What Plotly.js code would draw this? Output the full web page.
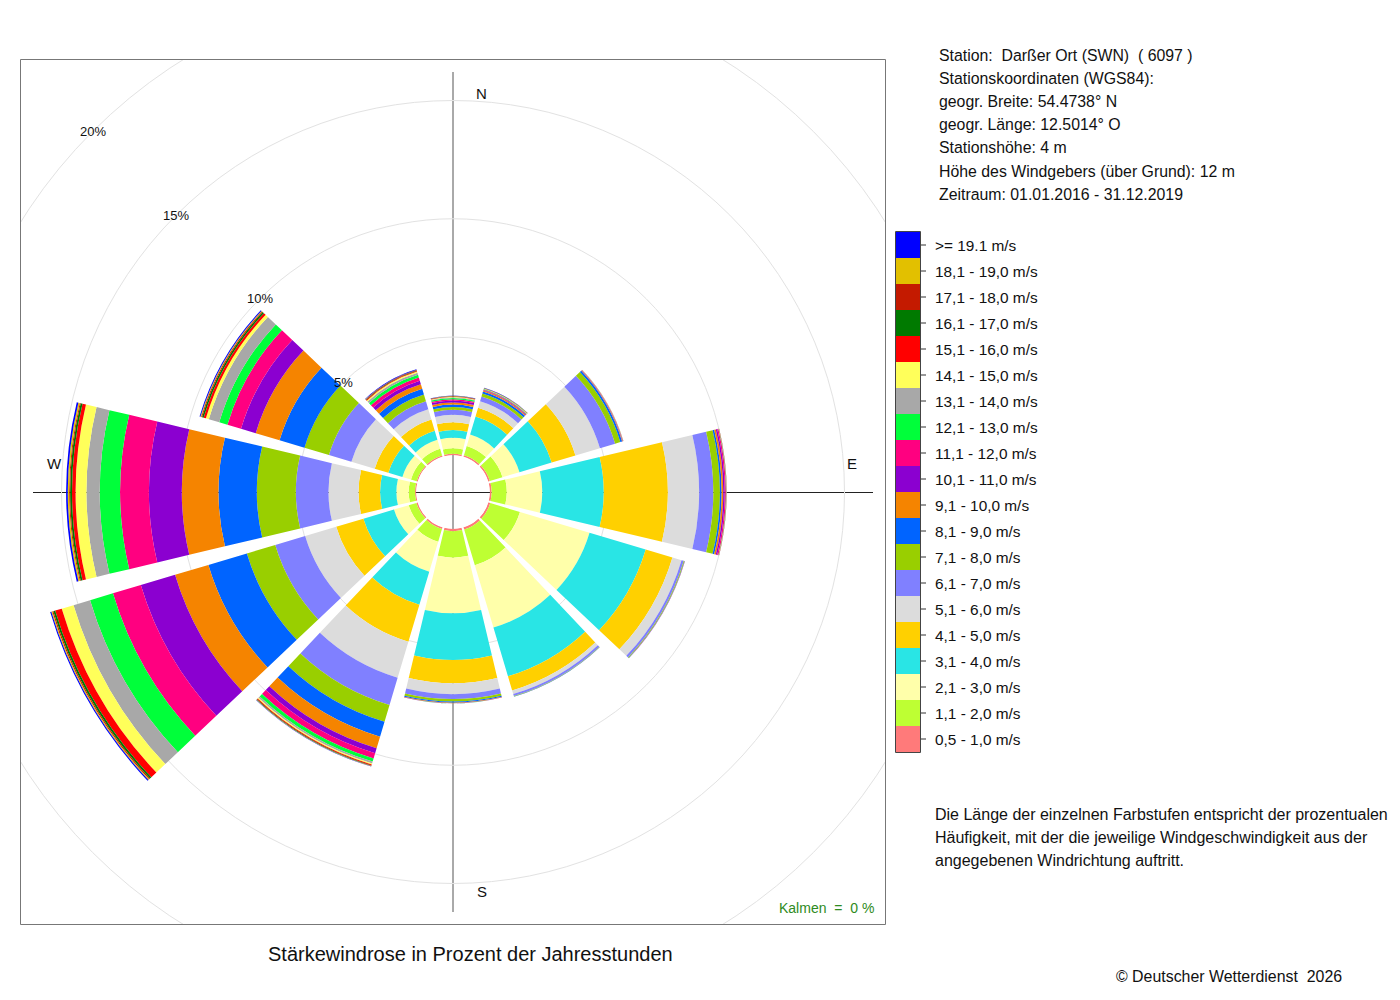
<!DOCTYPE html>
<html>
<head>
<meta charset="utf-8">
<script src="https://cdn.plot.ly/plotly-3.0.1.min.js"></script>
<style>
html,body{margin:0;padding:0;background:#ffffff;}
#chart{width:1400px;height:1000px;}
</style>
</head>
<body>
<div id="chart"></div>
<script>
// ---- data (percent of annual hours), directions in degrees ----
const directions = [0, 30, 60, 90, 120, 150, 180, 210, 240, 270, 300, 330];

const speedLabels = [
  '0,5 - 1,0 m/s', '1,1 - 2,0 m/s', '2,1 - 3,0 m/s', '3,1 - 4,0 m/s', '4,1 - 5,0 m/s',
  '5,1 - 6,0 m/s', '6,1 - 7,0 m/s', '7,1 - 8,0 m/s', '8,1 - 9,0 m/s', '9,1 - 10,0 m/s',
  '10,1 - 11,0 m/s', '11,1 - 12,0 m/s', '12,1 - 13,0 m/s', '13,1 - 14,0 m/s', '14,1 - 15,0 m/s',
  '15,1 - 16,0 m/s', '16,1 - 17,0 m/s', '17,1 - 18,0 m/s', '18,1 - 19,0 m/s', '>= 19.1 m/s'
];

const speedColors = [
  '#FF7A7A', '#BEFF33', '#FFFFAA', '#29E5E5', '#FFD000',
  '#DCDCDC', '#8080FF', '#99CF00', '#0064FF', '#F58400',
  '#8B00D0', '#FF0080', '#00FF3A', '#A8A8A8', '#FFFF5A',
  '#FF0000', '#007A00', '#C41A00', '#E2C000', '#0000FF'
];

//                 N     30    60    90    120   150   180   210   240   270   300   330
const v05_10  = [0.06, 0.07, 0.07, 0.08, 0.09, 0.10, 0.10, 0.08, 0.06, 0.05, 0.05, 0.06];
const v11_20  = [0.23, 0.41, 0.56, 0.64, 1.31, 1.58, 1.12, 0.56, 0.34, 0.27, 0.25, 0.29];
const v21_30  = [0.45, 0.50, 0.75, 1.50, 3.07, 2.75, 2.35, 1.32, 0.65, 0.52, 0.38, 0.40];
const v31_40  = [0.33, 0.80, 1.42, 2.60, 2.48, 2.15, 1.98, 1.46, 1.35, 0.69, 0.62, 0.40];
const v41_50  = [0.32, 0.38, 1.05, 2.71, 1.18, 0.62, 0.98, 1.63, 1.20, 0.91, 0.60, 0.50];
const v51_60  = [0.32, 0.29, 1.08, 1.32, 0.40, 0.16, 0.46, 1.59, 1.37, 1.27, 1.03, 0.45];
const v61_70  = [0.21, 0.21, 0.67, 0.60, 0.10, 0.09, 0.21, 1.20, 1.32, 1.38, 0.99, 0.35];
const v71_80  = [0.12, 0.13, 0.23, 0.28, 0.03, 0.02, 0.10, 0.74, 1.25, 1.65, 1.08, 0.30];
const v81_90  = [0.10, 0.09, 0.08, 0.07, 0.01, 0.005, 0.05, 0.66, 1.70, 1.62, 1.10, 0.25];
const v91_100 = [0.09, 0.04, 0.02, 0.07, 0.005, 0.003, 0.02, 0.51, 1.47, 1.55, 1.05, 0.20];
const v101_110 = [0.08, 0.03, 0.01, 0.06, 0.003, 0.002, 0.005, 0.22, 1.51, 1.39, 0.65, 0.16];
const v111_120 = [0.06, 0.02, 0.01, 0.05, 0.002, 0.001, 0.003, 0.23, 1.23, 1.22, 0.60, 0.14];
const v121_130 = [0.05, 0.02, 0.005, 0.01, 0.001, 0.001, 0.002, 0.14, 1.01, 0.86, 0.36, 0.12];
const v131_140 = [0.03, 0.01, 0.005, 0.01, 0.001, 0.0, 0.001, 0.08, 0.73, 0.56, 0.46, 0.09];
const v141_150 = [0.02, 0.01, 0.002, 0.005, 0.0, 0.0, 0.0, 0.05, 0.52, 0.46, 0.13, 0.05];
const v151_160 = [0.02, 0.01, 0.003, 0.005, 0.0, 0.0, 0.0, 0.04, 0.29, 0.15, 0.10, 0.04];
const v161_170 = [0.01, 0.01, 0.002, 0.002, 0.0, 0.0, 0.0, 0.02, 0.08, 0.08, 0.07, 0.02];
const v171_180 = [0.005, 0.005, 0.001, 0.001, 0.0, 0.0, 0.0, 0.01, 0.05, 0.04, 0.04, 0.015];
const v181_190 = [0.005, 0.005, 0.001, 0.001, 0.0, 0.0, 0.0, 0.01, 0.04, 0.06, 0.03, 0.01];
const v191_up  = [0.01, 0.01, 0.001, 0.001, 0.0, 0.0, 0.0, 0.01, 0.05, 0.07, 0.04, 0.015];

const seriesValues = [v05_10, v11_20, v21_30, v31_40, v41_50, v51_60, v61_70, v71_80, v81_90, v91_100,
  v101_110, v111_120, v121_130, v131_140, v141_150, v151_160, v161_170, v171_180, v181_190, v191_up];

const ringTicks = [5, 10, 15, 20];
const ringLabels = ['5%', '10%', '15%', '20%'];
const compassLabels = ['N', 'E', 'S', 'W'];

const headerLines = [
  'Station:\u00A0 Darßer Ort (SWN)\u00A0 ( 6097 )',
  'Stationskoordinaten (WGS84):',
  'geogr. Breite: 54.4738° N',
  'geogr. Länge: 12.5014° O',
  'Stationshöhe: 4 m',
  'Höhe des Windgebers (über Grund): 12 m',
  'Zeitraum: 01.01.2016 - 31.12.2019'
];
const noteLines = [
  'Die Länge der einzelnen Farbstufen entspricht der prozentualen',
  'Häufigkeit, mit der die jeweilige Windgeschwindigkeit aus der',
  'angegebenen Windrichtung auftritt.'
];
const chartTitle = 'Stärkewindrose in Prozent der Jahresstunden';
const copyrightText = '© Deutscher Wetterdienst\u00A0 2026';
const calmText = 'Kalmen\u00A0 =\u00A0 0 %';

// ---- geometry ----
const W = 1400, H = 1000;
const CX = 453, CY = 492;      // centre of the rose in pixels
const R = 453;                 // polar radius in pixels
const HOLE = 36.75;            // inner hole radius in pixels
const PX_PER_PCT = 23.65;
const rMax = (R - HOLE) / PX_PER_PCT;
const FONT = 'Liberation Sans, Arial, Helvetica, sans-serif';

const fx = x => x / W;
const fy = y => 1 - y / H;
const rpx = r => HOLE + r * PX_PER_PCT;

const traces = seriesValues.map((vals, i) => ({
  type: 'barpolar',
  r: vals,
  theta: directions,
  width: 26.8,
  name: speedLabels[i],
  marker: { color: speedColors[i], line: { width: 0 } },
  hoverinfo: 'skip',
  showlegend: false
}));

const shapes = [];
// outer 20% grid ring (beyond the polar frame)
const r20 = rpx(20);
shapes.push({ type: 'circle', xref: 'paper', yref: 'paper', layer: 'below',
  x0: fx(CX - r20), x1: fx(CX + r20), y0: fy(CY + r20), y1: fy(CY - r20),
  line: { color: '#e2e2e2', width: 1 } });
// cross lines
shapes.push({ type: 'line', xref: 'paper', yref: 'paper', layer: 'below',
  x0: fx(33), x1: fx(873), y0: fy(492.5), y1: fy(492.5), line: { color: '#222222', width: 1 } });
shapes.push({ type: 'line', xref: 'paper', yref: 'paper', layer: 'below',
  x0: fx(453), x1: fx(453), y0: fy(72), y1: fy(912), line: { color: '#555555', width: 1 } });
// white masks outside the plot frame
[[0, 0, W, 59], [0, 925, W, H], [0, 0, 20, H], [886, 0, W, H]].forEach(m => {
  shapes.push({ type: 'rect', xref: 'paper', yref: 'paper', layer: 'above',
    x0: fx(m[0]), x1: fx(m[2]), y0: fy(m[3]), y1: fy(m[1]),
    fillcolor: '#ffffff', line: { width: 0 } });
});
// plot frame
shapes.push({ type: 'rect', xref: 'paper', yref: 'paper', layer: 'above',
  x0: fx(20.5), x1: fx(885.5), y0: fy(924.5), y1: fy(59.5),
  line: { color: '#777777', width: 1 } });

// legend swatches
const LX0 = 896, LX1 = 920, LY0 = 232, LH = 26;
const annotations = [];
for (let k = 0; k < speedLabels.length; k++) {
  const idx = speedLabels.length - 1 - k;
  const y0 = LY0 + k * LH;
  shapes.push({ type: 'rect', xref: 'paper', yref: 'paper', layer: 'above',
    x0: fx(LX0), x1: fx(LX1), y0: fy(y0 + LH), y1: fy(y0),
    fillcolor: speedColors[idx], line: { width: 0 } });
  shapes.push({ type: 'line', xref: 'paper', yref: 'paper', layer: 'above',
    x0: fx(LX1), x1: fx(LX1 + 6), y0: fy(y0 + LH / 2), y1: fy(y0 + LH / 2),
    line: { color: '#333333', width: 1 } });
  annotations.push({ xref: 'paper', yref: 'paper', x: fx(933), y: fy(y0 + LH / 2 + 0.5),
    xanchor: 'left', yanchor: 'middle', showarrow: false, text: speedLabels[idx],
    font: { family: FONT, size: 15.4, color: '#111111' } });
}
shapes.push({ type: 'rect', xref: 'paper', yref: 'paper', layer: 'above',
  x0: fx(LX0 - 0.5), x1: fx(LX1 + 0.5), y0: fy(LY0 + LH * speedLabels.length + 0.5), y1: fy(LY0 - 0.5),
  line: { color: '#444444', width: 1 } });

// ring labels along the NW diagonal
ringTicks.forEach((t, i) => {
  const d = rpx(t) / Math.SQRT2;
  annotations.push({ xref: 'paper', yref: 'paper', x: fx(CX - d), y: fy(CY - d),
    xanchor: 'center', yanchor: 'middle', showarrow: false, text: ringLabels[i],
    font: { family: FONT, size: 13, color: '#111111' } });
});

// compass labels
const compassPos = [[481.5, 94], [852, 463], [482, 891], [54, 463]];
compassLabels.forEach((t, i) => {
  annotations.push({ xref: 'paper', yref: 'paper', x: fx(compassPos[i][0]), y: fy(compassPos[i][1]),
    xanchor: 'center', yanchor: 'middle', showarrow: false, text: t,
    font: { family: FONT, size: 15, color: '#111111' } });
});

// header
headerLines.forEach((t, i) => {
  annotations.push({ xref: 'paper', yref: 'paper', x: fx(937), y: fy(55 + i * 23.2),
    xanchor: 'left', yanchor: 'middle', showarrow: false, text: t,
    font: { family: FONT, size: 15.85, color: '#111111' } });
});
// note
noteLines.forEach((t, i) => {
  annotations.push({ xref: 'paper', yref: 'paper', x: fx(933), y: fy(814 + i * 23),
    xanchor: 'left', yanchor: 'middle', showarrow: false, text: t,
    font: { family: FONT, size: 16, color: '#111111' } });
});
// title, copyright, calm
annotations.push({ xref: 'paper', yref: 'paper', x: fx(470.5), y: fy(954),
  xanchor: 'center', yanchor: 'middle', showarrow: false, text: chartTitle,
  font: { family: FONT, size: 20, color: '#111111' } });
annotations.push({ xref: 'paper', yref: 'paper', x: fx(1344), y: fy(976),
  xanchor: 'right', yanchor: 'middle', showarrow: false, text: copyrightText,
  font: { family: FONT, size: 15.9, color: '#111111' } });
annotations.push({ xref: 'paper', yref: 'paper', x: fx(876), y: fy(908),
  xanchor: 'right', yanchor: 'middle', showarrow: false, text: calmText,
  font: { family: FONT, size: 14, color: '#2E8B22' } });

const layout = {
  width: W, height: H,
  margin: { l: 0, r: 0, t: 0, b: 0 },
  paper_bgcolor: '#ffffff',
  showlegend: false,
  polar: {
    domain: { x: [(CX - R) / W, (CX + R) / W], y: [(H - CY - R) / H, (H - CY + R) / H] },
    hole: HOLE / R,
    bgcolor: 'rgba(0,0,0,0)',
    barmode: 'stack',
    radialaxis: { range: [0, rMax], tickvals: ringTicks.slice(0, 3), showticklabels: false,
      ticks: '', showline: false, gridcolor: '#e2e2e2', gridwidth: 1 },
    angularaxis: { rotation: 90, direction: 'clockwise', showgrid: false, showticklabels: false,
      ticks: '', showline: false }
  },
  shapes: shapes,
  annotations: annotations
};

Plotly.newPlot('chart', traces, layout, { staticPlot: true, displayModeBar: false });
</script>
</body>
</html>
